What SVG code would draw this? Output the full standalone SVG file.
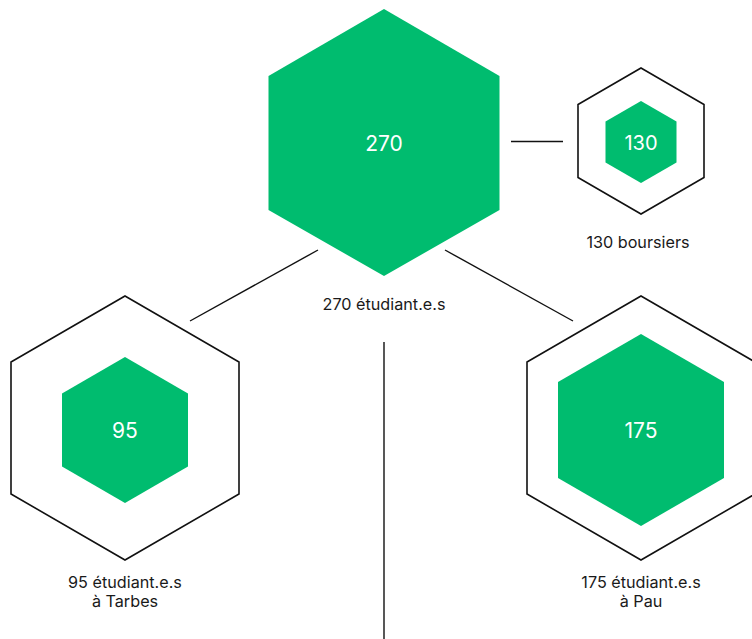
<svg xmlns="http://www.w3.org/2000/svg" width="752" height="639" viewBox="0 0 752 639">
<style>
.fill{fill:#00BC6F}
.out{fill:none;stroke:#111;stroke-width:1.6}
.conn line{stroke:#111;stroke-width:1.4}
.num{font-family:Inter,"Liberation Sans",sans-serif;fill:#fff;text-anchor:middle}
.lab{font-family:Inter,"Liberation Sans",sans-serif;fill:#1a1a1a;font-size:16.2px;text-anchor:middle}
</style>
<rect width="752" height="639" fill="#fff"/>
<g class="conn">
<line x1="511" y1="141.5" x2="563" y2="141.5"/>
<line x1="190" y1="321" x2="318" y2="250"/>
<line x1="445" y1="250" x2="573" y2="321"/>
<line x1="384" y1="342" x2="384" y2="639"/>
</g>
<g id="total">
<polygon class="fill" points="384,9 499.5,76 499.5,210 384,276 268.5,210 268.5,76"/>
<text class="num" x="384" y="151" font-size="21">270</text>
<text class="lab" x="384" y="310">270 étudiant.e.s</text>
</g>
<g id="boursiers">
<polygon class="out" points="641,68 704,104.5 704,177.5 641,214 578,177.5 578,104.5"/>
<polygon class="fill" points="641,101 676.5,121.5 676.5,162.5 641,183 605.5,162.5 605.5,121.5"/>
<text class="num" x="641" y="149.5" font-size="20">130</text>
<text class="lab" x="638" y="248">130 boursiers</text>
</g>
<g id="tarbes">
<polygon class="out" points="125,296 239,362 239,494 125,560 11,494 11,362"/>
<polygon class="fill" points="125,357 188,393.5 188,466.5 125,503 62,466.5 62,393.5"/>
<text class="num" x="125" y="438" font-size="21">95</text>
<text class="lab" x="125" y="588">95 étudiant.e.s</text>
<text class="lab" x="125" y="607">à Tarbes</text>
</g>
<g id="pau">
<polygon class="out" points="641,296 755,362 755,494 641,560 527,494 527,362"/>
<polygon class="fill" points="641,334 724,382 724,478 641,526 558,478 558,382"/>
<text class="num" x="641" y="438" font-size="21">175</text>
<text class="lab" x="641" y="588">175 étudiant.e.s</text>
<text class="lab" x="641" y="607">à Pau</text>
</g>
</svg>
